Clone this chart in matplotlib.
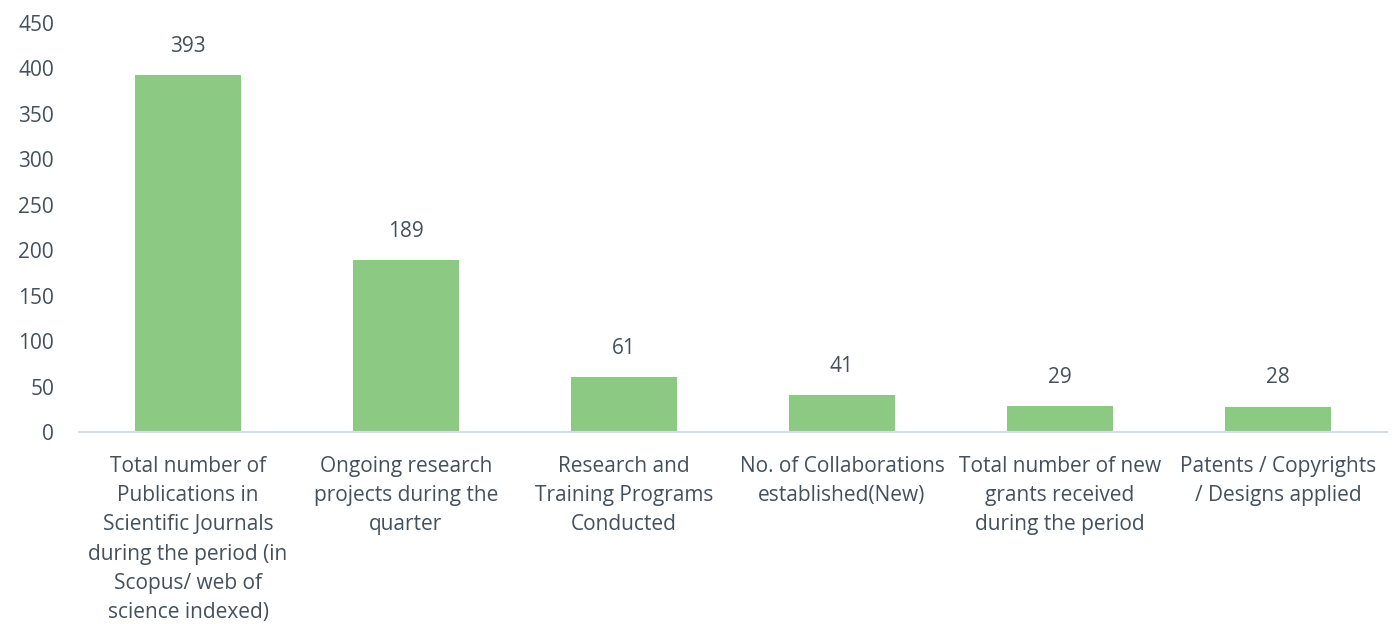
import matplotlib
matplotlib.use("Agg")
import matplotlib.pyplot as plt

categories = [
    "Total number of\nPublications in\nScientific Journals\nduring the period (in\nScopus/ web of\nscience indexed)",
    "Ongoing research\nprojects during the\nquarter",
    "Research and\nTraining Programs\nConducted",
    "No. of Collaborations\nestablished(New)",
    "Total number of new\ngrants received\nduring the period",
    "Patents / Copyrights\n/ Designs applied",
]
values = [393, 189, 61, 41, 29, 28]
yticks = [0, 50, 100, 150, 200, 250, 300, 350, 400, 450]

plt.rcParams['font.family'] = ['Open Sans', 'DejaVu Sans']
text_color = '#44505c'
bar_color = '#8cca83'
fs = 15

fig = plt.figure(figsize=(13.99, 6.24), dpi=100)
ax = fig.add_axes([79/1399, 1-432/624, (1387-79)/1399, 409/624])

x = list(range(len(categories)))
ax.bar(x, values, width=0.49, color=bar_color)
ax.set_xlim(-0.5, len(categories) - 0.5)
ax.set_ylim(0, 450)
ax.set_yticks(yticks)
ax.set_yticklabels([str(t) for t in yticks], fontsize=fs, color=text_color)
ax.set_xticks(x)
ax.set_xticklabels(categories, fontsize=fs, color=text_color, linespacing=1.52)
ax.tick_params(axis='y', length=0, pad=18)
ax.tick_params(axis='x', length=0, pad=17)

for s in ['top', 'right', 'left']:
    ax.spines[s].set_visible(False)
ax.spines['bottom'].set_color('#d6dde5')
ax.spines['bottom'].set_linewidth(1.5)

for xi, v in zip(x, values):
    ax.annotate(str(v), (xi, v), xytext=(0, 13), textcoords='offset points',
                ha='center', va='bottom', fontsize=fs, color=text_color)

fig.savefig("out.png", dpi=100)
